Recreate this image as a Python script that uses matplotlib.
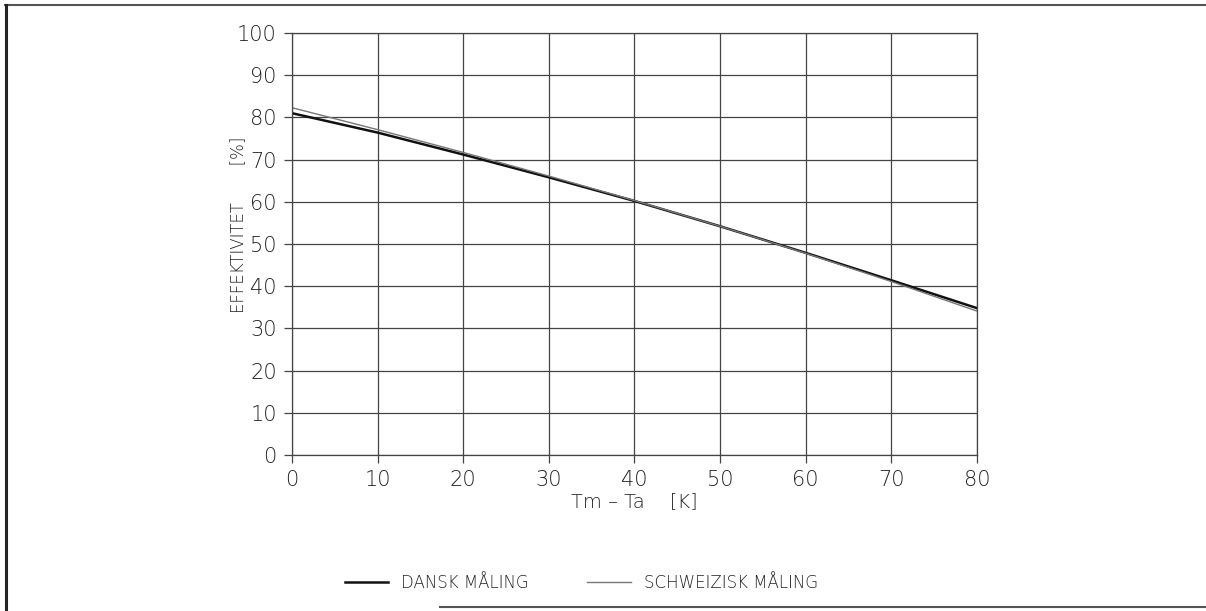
import matplotlib
matplotlib.use('Agg')
import matplotlib.pyplot as plt
from matplotlib.lines import Line2D

# temperature difference Tm - Ta [K]
dt = [0, 10, 20, 30, 40, 50, 60, 70, 80]
# efficiency [%]
dansk = [81.0, 76.4, 71.2, 65.8, 60.2, 54.2, 47.9, 41.4, 34.8]
schweizisk = [82.3, 77.1, 71.7, 66.1, 60.3, 54.2, 47.8, 41.1, 34.1]

xticks = [0, 10, 20, 30, 40, 50, 60, 70, 80]
yticks = [0, 10, 20, 30, 40, 50, 60, 70, 80, 90, 100]

plt.rcParams['font.family'] = ['DejaVu Sans']
plt.rcParams['font.weight'] = 'light'

fig = plt.figure(figsize=(12.06, 6.11), dpi=100)
ax = fig.add_axes([0.2421, 0.2553, 0.5680, 0.6907])

ax.plot(dt, dansk, color='#111111', lw=1.8, label='DANSK MÅLING')
ax.plot(dt, schweizisk, color='#777777', lw=1.0, label='SCHWEIZISK MÅLING')

ax.set_xlim(0, 80)
ax.set_ylim(0, 100)
ax.set_xticks(xticks)
ax.set_yticks(yticks)
ax.grid(True, color='#444444', lw=0.9)
ax.set_axisbelow(True)
for s in ax.spines.values():
    s.set_color('#444444')
    s.set_linewidth(0.9)
ax.tick_params(direction='out', length=6, width=0.9, color='#444444',
               labelsize=15, labelcolor='#222222', pad=5)

ax.set_xlabel('Tm – Ta    [K]', fontsize=14, color='#222222', labelpad=1,
              fontweight='light')
ax.set_ylabel('EFFEKTIVITET       [%]', fontsize=12, color='#222222',
              fontweight='light')
ax.yaxis.set_label_coords(-0.066, 0.545)

fig.legend(loc='center', bbox_to_anchor=(0.482, 0.046), ncol=2, frameon=False,
           fontsize=12, handlelength=2.6, columnspacing=3.5, labelcolor='#222222')

# scanned page border
border = dict(color='#555555', lw=1.5, transform=fig.transFigure)
fig.add_artist(Line2D([0.004, 1.0], [0.992, 0.992], **border))
fig.add_artist(Line2D([0.005, 0.005], [0.0, 0.992], color='#222222', lw=2.2,
                      transform=fig.transFigure))
fig.add_artist(Line2D([0.365, 1.0], [0.007, 0.007], **border))

fig.savefig('out.png', dpi=100, facecolor='white')
